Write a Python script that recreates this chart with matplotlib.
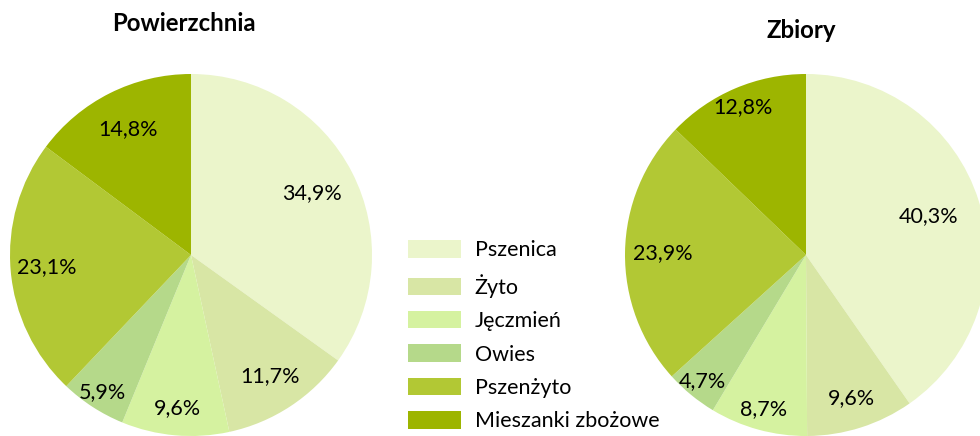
"""Struktura powierzchni i zbiorów zbóż"""
import matplotlib
matplotlib.use("Agg")
import matplotlib.pyplot as plt
import numpy as np

plt.rcParams['font.family'] = ['Lato', 'DejaVu Sans']

zboza = ["Pszenica", "Żyto", "Jęczmień", "Owies", "Pszenżyto", "Mieszanki zbożowe"]
powierzchnia = [34.9, 11.7, 9.6, 5.9, 23.1, 14.8]
zbiory = [40.3, 9.6, 8.7, 4.7, 23.9, 12.8]

kolory = ["#ebf5cb", "#d8e6a5", "#d5f2a0", "#b5d98a", "#b2c834", "#9db500"]


def pie(rect, values, title, title_xy, dist):
    ax = fig.add_axes(rect)
    wedges, _ = ax.pie(values, colors=kolory, startangle=90, counterclock=False,
                       radius=1, wedgeprops=dict(linewidth=0))
    ax.set_xlim(-1, 1)
    ax.set_ylim(-1, 1)
    ax.set_aspect("equal")
    # etykiety procentowe
    total = sum(values)
    start = 90.0
    for v, d in zip(values, dist):
        mid = np.deg2rad(start - v / total * 360 / 2)
        start -= v / total * 360
        ax.text(d * np.cos(mid), d * np.sin(mid), f"{v:.1f}%".replace(".", ","),
                ha="center", va="center", fontsize=15.5)
    ax.text(title_xy[0], title_xy[1], title, ha="center", va="center", fontsize=17.3,
            fontweight="bold", clip_on=False)
    return wedges


fig = plt.figure(figsize=(9.8, 4.36), dpi=100)
w = 362 / 980
h = 362 / 436
wedges = pie([10 / 980, 0, w, h], powierzchnia, "Powierzchnia", (-0.04, 1.28),
             [0.75, 0.8, 0.85, 0.9, 0.8, 0.78])
pie([625 / 980, 0, w, h], zbiory, "Zbiory", (-0.025, 1.24),
    [0.71, 0.83, 0.88, 0.9, 0.79, 0.89])

fig.legend(wedges, zboza, loc="upper left", bbox_to_anchor=(389 / 980, 1 - 221 / 436),
           frameon=False, fontsize=15.5, handlelength=2.45, handleheight=0.86,
           labelspacing=0.62, handletextpad=0.63)

fig.savefig("out.png", dpi=100)
